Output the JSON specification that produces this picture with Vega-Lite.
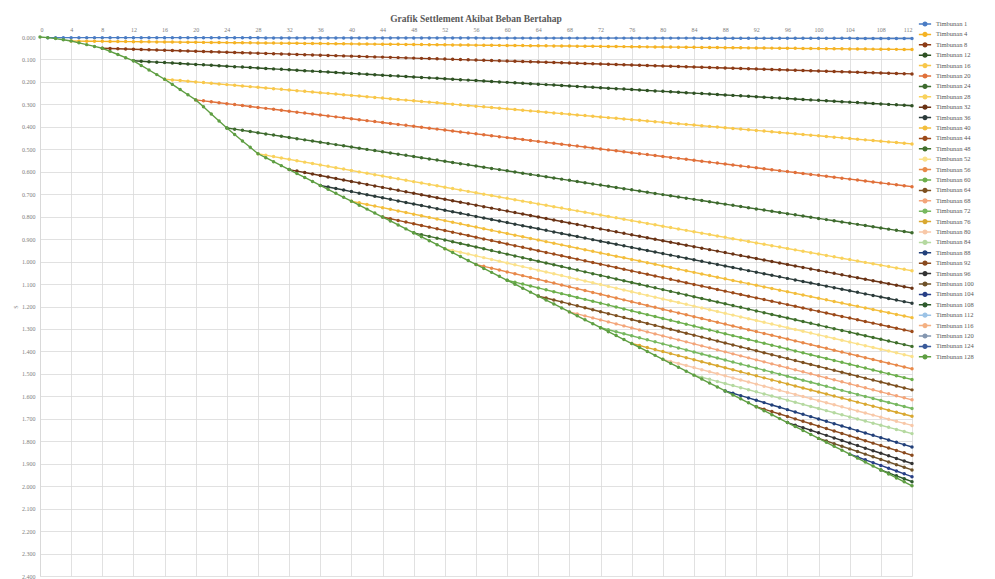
{
"$schema": "https://vega.github.io/schema/vega-lite/v6.json",
"width": 872, "height": 539,
"autosize": {"type": "none"},
"padding": {"left": 40, "top": 37, "right": 83, "bottom": 3},
"background": "white",
"config": {"font": "Liberation Serif", "view": {"stroke": null}},
"title": {"text": "Grafik Settlement Akibat Beban Bertahap", "fontSize": 9.5, "fontWeight": "bold", "color": "#595959", "anchor": "middle", "offset": -3},
"data": {"values": [
{"s":"Timbunan 1","x":[1,2,3,4,5,6,7,8,9,10,11,12,13,14,15,16,17,18,19,20,21,22,23,24,25,26,27,28,29,30,31,32,33,34,35,36,37,38,39,40,41,42,43,44,45,46,47,48,49,50,51,52,53,54,55,56,57,58,59,60,61,62,63,64,65,66,67,68,69,70,71,72,73,74,75,76,77,78,79,80,81,82,83,84,85,86,87,88,89,90,91,92,93,94,95,96,97,98,99,100,101,102,103,104,105,106,107,108,109,110,111,112],
"y":[0.003,0.003,0.003,0.003,0.003,0.003,0.003,0.003,0.003,0.003,0.003,0.003,0.003,0.003,0.003,0.003,0.003,0.003,0.003,0.003,0.003,0.003,0.003,0.003,0.003,0.003,0.003,0.003,0.004,0.004,0.004,0.004,0.004,0.004,0.004,0.004,0.004,0.004,0.004,0.004,0.004,0.004,0.004,0.004,0.004,0.004,0.004,0.004,0.004,0.004,0.004,0.004,0.004,0.004,0.004,0.004,0.005,0.005,0.005,0.005,0.005,0.005,0.005,0.005,0.005,0.005,0.005,0.005,0.005,0.005,0.005,0.005,0.005,0.005,0.005,0.005,0.005,0.005,0.005,0.005,0.005,0.005,0.005,0.005,0.006,0.006,0.006,0.006,0.006,0.006,0.006,0.006,0.006,0.006,0.006,0.006,0.006,0.006,0.006,0.006,0.006,0.006,0.006,0.006,0.007,0.007,0.007,0.007,0.007,0.007,0.007,0.007]},
{"s":"Timbunan 4","x":[4,5,6,7,8,9,10,11,12,13,14,15,16,17,18,19,20,21,22,23,24,25,26,27,28,29,30,31,32,33,34,35,36,37,38,39,40,41,42,43,44,45,46,47,48,49,50,51,52,53,54,55,56,57,58,59,60,61,62,63,64,65,66,67,68,69,70,71,72,73,74,75,76,77,78,79,80,81,82,83,84,85,86,87,88,89,90,91,92,93,94,95,96,97,98,99,100,101,102,103,104,105,106,107,108,109,110,111,112],
"y":[0.018,0.01835,0.0187,0.01905,0.0194,0.01975,0.0201,0.02045,0.0208,0.02115,0.0215,0.02185,0.0222,0.02255,0.0229,0.02325,0.0236,0.02395,0.0243,0.02465,0.025,0.02535,0.0257,0.02605,0.0264,0.02675,0.0271,0.02745,0.0278,0.02815,0.0285,0.02885,0.0292,0.02955,0.0299,0.03025,0.0306,0.03095,0.0313,0.03165,0.032,0.03235,0.0327,0.03305,0.0334,0.03375,0.0341,0.03445,0.0348,0.03515,0.0355,0.03585,0.0362,0.03655,0.0369,0.03725,0.0376,0.03795,0.0383,0.03865,0.039,0.03935,0.0397,0.04005,0.0404,0.04075,0.0411,0.04145,0.0418,0.04215,0.0425,0.04285,0.0432,0.04355,0.0439,0.04425,0.0446,0.04495,0.0453,0.04565,0.046,0.04635,0.0467,0.04705,0.0474,0.04775,0.0481,0.04845,0.0488,0.04915,0.0495,0.04985,0.0502,0.05055,0.0509,0.05125,0.0516,0.05195,0.0523,0.05265,0.053,0.05335,0.0537,0.05405,0.0544,0.05475,0.0551,0.05545,0.0558]},
{"s":"Timbunan 8","x":[8,9,10,11,12,13,14,15,16,17,18,19,20,21,22,23,24,25,26,27,28,29,30,31,32,33,34,35,36,37,38,39,40,41,42,43,44,45,46,47,48,49,50,51,52,53,54,55,56,57,58,59,60,61,62,63,64,65,66,67,68,69,70,71,72,73,74,75,76,77,78,79,80,81,82,83,84,85,86,87,88,89,90,91,92,93,94,95,96,97,98,99,100,101,102,103,104,105,106,107,108,109,110,111,112],
"y":[0.05,0.0511,0.0522,0.0533,0.0544,0.0555,0.0566,0.0577,0.0588,0.0599,0.061,0.0621,0.0632,0.0643,0.0654,0.0665,0.0676,0.0687,0.0698,0.0709,0.072,0.0731,0.0742,0.0753,0.0764,0.0775,0.0786,0.0797,0.0808,0.0819,0.083,0.0841,0.0852,0.0863,0.0874,0.0885,0.0896,0.0907,0.0918,0.0929,0.094,0.0951,0.0962,0.0973,0.0984,0.0995,0.1006,0.1017,0.1028,0.1039,0.105,0.1061,0.1072,0.1083,0.1094,0.1105,0.1116,0.1127,0.1138,0.1149,0.116,0.1171,0.1182,0.1193,0.1204,0.1215,0.1226,0.1237,0.1248,0.1259,0.127,0.1281,0.1292,0.1303,0.1314,0.1325,0.1336,0.1347,0.1358,0.1369,0.138,0.1391,0.1402,0.1413,0.1424,0.1435,0.1446,0.1457,0.1468,0.1479,0.149,0.1501,0.1512,0.1523,0.1534,0.1545,0.1556,0.1567,0.1578,0.1589,0.16,0.1611,0.1622,0.1633,0.1644]},
{"s":"Timbunan 12","x":[12,13,14,15,16,17,18,19,20,21,22,23,24,25,26,27,28,29,30,31,32,33,34,35,36,37,38,39,40,41,42,43,44,45,46,47,48,49,50,51,52,53,54,55,56,57,58,59,60,61,62,63,64,65,66,67,68,69,70,71,72,73,74,75,76,77,78,79,80,81,82,83,84,85,86,87,88,89,90,91,92,93,94,95,96,97,98,99,100,101,102,103,104,105,106,107,108,109,110,111,112],
"y":[0.106,0.108,0.11,0.112,0.114,0.116,0.118,0.12,0.122,0.124,0.126,0.128,0.13,0.132,0.134,0.136,0.138,0.14,0.142,0.144,0.146,0.148,0.15,0.152,0.154,0.156,0.158,0.16,0.162,0.164,0.166,0.168,0.17,0.172,0.174,0.176,0.178,0.18,0.182,0.184,0.186,0.188,0.19,0.192,0.194,0.196,0.198,0.2,0.202,0.204,0.206,0.208,0.21,0.212,0.214,0.216,0.218,0.22,0.222,0.224,0.226,0.228,0.23,0.232,0.234,0.236,0.238,0.24,0.242,0.244,0.246,0.248,0.25,0.252,0.254,0.256,0.258,0.26,0.262,0.264,0.266,0.268,0.27,0.272,0.274,0.276,0.278,0.28,0.282,0.284,0.286,0.288,0.29,0.292,0.294,0.296,0.298,0.3,0.302,0.304,0.306]},
{"s":"Timbunan 16","x":[16,17,18,19,20,21,22,23,24,25,26,27,28,29,30,31,32,33,34,35,36,37,38,39,40,41,42,43,44,45,46,47,48,49,50,51,52,53,54,55,56,57,58,59,60,61,62,63,64,65,66,67,68,69,70,71,72,73,74,75,76,77,78,79,80,81,82,83,84,85,86,87,88,89,90,91,92,93,94,95,96,97,98,99,100,101,102,103,104,105,106,107,108,109,110,111,112],
"y":[0.188,0.191,0.194,0.197,0.2,0.203,0.206,0.209,0.212,0.215,0.218,0.221,0.224,0.227,0.23,0.233,0.236,0.239,0.242,0.245,0.248,0.251,0.254,0.257,0.26,0.263,0.266,0.269,0.272,0.275,0.278,0.281,0.284,0.287,0.29,0.293,0.296,0.299,0.302,0.305,0.308,0.311,0.314,0.317,0.32,0.323,0.326,0.329,0.332,0.335,0.338,0.341,0.344,0.347,0.35,0.353,0.356,0.359,0.362,0.365,0.368,0.371,0.374,0.377,0.38,0.383,0.386,0.389,0.392,0.395,0.398,0.401,0.404,0.407,0.41,0.413,0.416,0.419,0.422,0.425,0.428,0.431,0.434,0.437,0.44,0.443,0.446,0.449,0.452,0.455,0.458,0.461,0.464,0.467,0.47,0.473,0.476]},
{"s":"Timbunan 20","x":[20,21,22,23,24,25,26,27,28,29,30,31,32,33,34,35,36,37,38,39,40,41,42,43,44,45,46,47,48,49,50,51,52,53,54,55,56,57,58,59,60,61,62,63,64,65,66,67,68,69,70,71,72,73,74,75,76,77,78,79,80,81,82,83,84,85,86,87,88,89,90,91,92,93,94,95,96,97,98,99,100,101,102,103,104,105,106,107,108,109,110,111,112],
"y":[0.28,0.2842,0.2884,0.2926,0.2968,0.301,0.3052,0.3094,0.3136,0.3178,0.322,0.3262,0.3304,0.3346,0.3388,0.343,0.3472,0.3514,0.3556,0.3598,0.364,0.3682,0.3724,0.3766,0.3808,0.385,0.3892,0.3934,0.3976,0.4018,0.406,0.4102,0.4144,0.4186,0.4228,0.427,0.4312,0.4354,0.4396,0.4438,0.448,0.4522,0.4564,0.4606,0.4648,0.469,0.4732,0.4774,0.4816,0.4858,0.49,0.4942,0.4984,0.5026,0.5068,0.511,0.5152,0.5194,0.5236,0.5278,0.532,0.5362,0.5404,0.5446,0.5488,0.553,0.5572,0.5614,0.5656,0.5698,0.574,0.5782,0.5824,0.5866,0.5908,0.595,0.5992,0.6034,0.6076,0.6118,0.616,0.6202,0.6244,0.6286,0.6328,0.637,0.6412,0.6454,0.6496,0.6538,0.658,0.6622,0.6664]},
{"s":"Timbunan 24","x":[24,25,26,27,28,29,30,31,32,33,34,35,36,37,38,39,40,41,42,43,44,45,46,47,48,49,50,51,52,53,54,55,56,57,58,59,60,61,62,63,64,65,66,67,68,69,70,71,72,73,74,75,76,77,78,79,80,81,82,83,84,85,86,87,88,89,90,91,92,93,94,95,96,97,98,99,100,101,102,103,104,105,106,107,108,109,110,111,112],
"y":[0.405,0.4103,0.4156,0.4209,0.4262,0.4315,0.4368,0.4421,0.4474,0.4527,0.458,0.4633,0.4686,0.4739,0.4792,0.4845,0.4898,0.4951,0.5004,0.5057,0.511,0.5163,0.5216,0.5269,0.5322,0.5375,0.5428,0.5481,0.5534,0.5587,0.564,0.5693,0.5746,0.5799,0.5852,0.5905,0.5958,0.6011,0.6064,0.6117,0.617,0.6223,0.6276,0.6329,0.6382,0.6435,0.6488,0.6541,0.6594,0.6647,0.67,0.6753,0.6806,0.6859,0.6912,0.6965,0.7018,0.7071,0.7124,0.7177,0.723,0.7283,0.7336,0.7389,0.7442,0.7495,0.7548,0.7601,0.7654,0.7707,0.776,0.7813,0.7866,0.7919,0.7972,0.8025,0.8078,0.8131,0.8184,0.8237,0.829,0.8343,0.8396,0.8449,0.8502,0.8555,0.8608,0.8661,0.8714]},
{"s":"Timbunan 28","x":[28,29,30,31,32,33,34,35,36,37,38,39,40,41,42,43,44,45,46,47,48,49,50,51,52,53,54,55,56,57,58,59,60,61,62,63,64,65,66,67,68,69,70,71,72,73,74,75,76,77,78,79,80,81,82,83,84,85,86,87,88,89,90,91,92,93,94,95,96,97,98,99,100,101,102,103,104,105,106,107,108,109,110,111,112],
"y":[0.52,0.5262,0.5324,0.5386,0.5448,0.551,0.5572,0.5634,0.5696,0.5758,0.582,0.5882,0.5944,0.6006,0.6068,0.613,0.6192,0.6254,0.6316,0.6378,0.644,0.6502,0.6564,0.6626,0.6688,0.675,0.6812,0.6874,0.6936,0.6998,0.706,0.7122,0.7184,0.7246,0.7308,0.737,0.7432,0.7494,0.7556,0.7618,0.768,0.7742,0.7804,0.7866,0.7928,0.799,0.8052,0.8114,0.8176,0.8238,0.83,0.8362,0.8424,0.8486,0.8548,0.861,0.8672,0.8734,0.8796,0.8858,0.892,0.8982,0.9044,0.9106,0.9168,0.923,0.9292,0.9354,0.9416,0.9478,0.954,0.9602,0.9664,0.9726,0.9788,0.985,0.9912,0.9974,1.0036,1.0098,1.016,1.0222,1.0284,1.0346,1.0408]},
{"s":"Timbunan 32","x":[32,33,34,35,36,37,38,39,40,41,42,43,44,45,46,47,48,49,50,51,52,53,54,55,56,57,58,59,60,61,62,63,64,65,66,67,68,69,70,71,72,73,74,75,76,77,78,79,80,81,82,83,84,85,86,87,88,89,90,91,92,93,94,95,96,97,98,99,100,101,102,103,104,105,106,107,108,109,110,111,112],
"y":[0.5904,0.597,0.6036,0.6102,0.6168,0.6234,0.63,0.6366,0.6432,0.6498,0.6564,0.663,0.6696,0.6762,0.6828,0.6894,0.696,0.7026,0.7092,0.7158,0.7224,0.729,0.7356,0.7422,0.7488,0.7554,0.762,0.7686,0.7752,0.7818,0.7884,0.795,0.8016,0.8082,0.8148,0.8214,0.828,0.8346,0.8412,0.8478,0.8544,0.861,0.8676,0.8742,0.8808,0.8874,0.894,0.9006,0.9072,0.9138,0.9204,0.927,0.9336,0.9402,0.9468,0.9534,0.96,0.9666,0.9732,0.9798,0.9864,0.993,0.9996,1.0062,1.0128,1.0194,1.026,1.0326,1.0392,1.0458,1.0524,1.059,1.0656,1.0722,1.0788,1.0854,1.092,1.0986,1.1052,1.1118,1.1184]},
{"s":"Timbunan 36","x":[36,37,38,39,40,41,42,43,44,45,46,47,48,49,50,51,52,53,54,55,56,57,58,59,60,61,62,63,64,65,66,67,68,69,70,71,72,73,74,75,76,77,78,79,80,81,82,83,84,85,86,87,88,89,90,91,92,93,94,95,96,97,98,99,100,101,102,103,104,105,106,107,108,109,110,111,112],
"y":[0.6608,0.6677,0.6746,0.6815,0.6884,0.6953,0.7022,0.7091,0.716,0.7229,0.7298,0.7367,0.7436,0.7505,0.7574,0.7643,0.7712,0.7781,0.785,0.7919,0.7988,0.8057,0.8126,0.8195,0.8264,0.8333,0.8402,0.8471,0.854,0.8609,0.8678,0.8747,0.8816,0.8885,0.8954,0.9023,0.9092,0.9161,0.923,0.9299,0.9368,0.9437,0.9506,0.9575,0.9644,0.9713,0.9782,0.9851,0.992,0.9989,1.0058,1.0127,1.0196,1.0265,1.0334,1.0403,1.0472,1.0541,1.061,1.0679,1.0748,1.0817,1.0886,1.0955,1.1024,1.1093,1.1162,1.1231,1.13,1.1369,1.1438,1.1507,1.1576,1.1645,1.1714,1.1783,1.1852]},
{"s":"Timbunan 40","x":[40,41,42,43,44,45,46,47,48,49,50,51,52,53,54,55,56,57,58,59,60,61,62,63,64,65,66,67,68,69,70,71,72,73,74,75,76,77,78,79,80,81,82,83,84,85,86,87,88,89,90,91,92,93,94,95,96,97,98,99,100,101,102,103,104,105,106,107,108,109,110,111,112],
"y":[0.7312,0.7384,0.7456,0.7528,0.76,0.7672,0.7744,0.7816,0.7888,0.796,0.8032,0.8104,0.8176,0.8248,0.832,0.8392,0.8464,0.8536,0.8608,0.868,0.8752,0.8824,0.8896,0.8968,0.904,0.9112,0.9184,0.9256,0.9328,0.94,0.9472,0.9544,0.9616,0.9688,0.976,0.9832,0.9904,0.9976,1.0048,1.012,1.0192,1.0264,1.0336,1.0408,1.048,1.0552,1.0624,1.0696,1.0768,1.084,1.0912,1.0984,1.1056,1.1128,1.12,1.1272,1.1344,1.1416,1.1488,1.156,1.1632,1.1704,1.1776,1.1848,1.192,1.1992,1.2064,1.2136,1.2208,1.228,1.2352,1.2424,1.2496]},
{"s":"Timbunan 44","x":[44,45,46,47,48,49,50,51,52,53,54,55,56,57,58,59,60,61,62,63,64,65,66,67,68,69,70,71,72,73,74,75,76,77,78,79,80,81,82,83,84,85,86,87,88,89,90,91,92,93,94,95,96,97,98,99,100,101,102,103,104,105,106,107,108,109,110,111,112],
"y":[0.8016,0.8091,0.8166,0.8241,0.8316,0.8391,0.8466,0.8541,0.8616,0.8691,0.8766,0.8841,0.8916,0.8991,0.9066,0.9141,0.9216,0.9291,0.9366,0.9441,0.9516,0.9591,0.9666,0.9741,0.9816,0.9891,0.9966,1.0041,1.0116,1.0191,1.0266,1.0341,1.0416,1.0491,1.0566,1.0641,1.0716,1.0791,1.0866,1.0941,1.1016,1.1091,1.1166,1.1241,1.1316,1.1391,1.1466,1.1541,1.1616,1.1691,1.1766,1.1841,1.1916,1.1991,1.2066,1.2141,1.2216,1.2291,1.2366,1.2441,1.2516,1.2591,1.2666,1.2741,1.2816,1.2891,1.2966,1.3041,1.3116]},
{"s":"Timbunan 48","x":[48,49,50,51,52,53,54,55,56,57,58,59,60,61,62,63,64,65,66,67,68,69,70,71,72,73,74,75,76,77,78,79,80,81,82,83,84,85,86,87,88,89,90,91,92,93,94,95,96,97,98,99,100,101,102,103,104,105,106,107,108,109,110,111,112],
"y":[0.872,0.8799,0.8878,0.8957,0.9036,0.9115,0.9194,0.9273,0.9352,0.9431,0.951,0.9589,0.9668,0.9747,0.9826,0.9905,0.9984,1.0063,1.0142,1.0221,1.03,1.0379,1.0458,1.0537,1.0616,1.0695,1.0774,1.0853,1.0932,1.1011,1.109,1.1169,1.1248,1.1327,1.1406,1.1485,1.1564,1.1643,1.1722,1.1801,1.188,1.1959,1.2038,1.2117,1.2196,1.2275,1.2354,1.2433,1.2512,1.2591,1.267,1.2749,1.2828,1.2907,1.2986,1.3065,1.3144,1.3223,1.3302,1.3381,1.346,1.3539,1.3618,1.3697,1.3776]},
{"s":"Timbunan 52","x":[52,53,54,55,56,57,58,59,60,61,62,63,64,65,66,67,68,69,70,71,72,73,74,75,76,77,78,79,80,81,82,83,84,85,86,87,88,89,90,91,92,93,94,95,96,97,98,99,100,101,102,103,104,105,106,107,108,109,110,111,112],
"y":[0.9424,0.9504,0.9584,0.9664,0.9744,0.9824,0.9904,0.9984,1.0064,1.0144,1.0224,1.0304,1.0384,1.0464,1.0544,1.0624,1.0704,1.0784,1.0864,1.0944,1.1024,1.1104,1.1184,1.1264,1.1344,1.1424,1.1504,1.1584,1.1664,1.1744,1.1824,1.1904,1.1984,1.2064,1.2144,1.2224,1.2304,1.2384,1.2464,1.2544,1.2624,1.2704,1.2784,1.2864,1.2944,1.3024,1.3104,1.3184,1.3264,1.3344,1.3424,1.3504,1.3584,1.3664,1.3744,1.3824,1.3904,1.3984,1.4064,1.4144,1.4224]},
{"s":"Timbunan 56","x":[56,57,58,59,60,61,62,63,64,65,66,67,68,69,70,71,72,73,74,75,76,77,78,79,80,81,82,83,84,85,86,87,88,89,90,91,92,93,94,95,96,97,98,99,100,101,102,103,104,105,106,107,108,109,110,111,112],
"y":[1.0128,1.0211,1.0294,1.0377,1.046,1.0543,1.0626,1.0709,1.0792,1.0875,1.0958,1.1041,1.1124,1.1207,1.129,1.1373,1.1456,1.1539,1.1622,1.1705,1.1788,1.1871,1.1954,1.2037,1.212,1.2203,1.2286,1.2369,1.2452,1.2535,1.2618,1.2701,1.2784,1.2867,1.295,1.3033,1.3116,1.3199,1.3282,1.3365,1.3448,1.3531,1.3614,1.3697,1.378,1.3863,1.3946,1.4029,1.4112,1.4195,1.4278,1.4361,1.4444,1.4527,1.461,1.4693,1.4776]},
{"s":"Timbunan 60","x":[60,61,62,63,64,65,66,67,68,69,70,71,72,73,74,75,76,77,78,79,80,81,82,83,84,85,86,87,88,89,90,91,92,93,94,95,96,97,98,99,100,101,102,103,104,105,106,107,108,109,110,111,112],
"y":[1.0832,1.0917,1.1002,1.1087,1.1172,1.1257,1.1342,1.1427,1.1512,1.1597,1.1682,1.1767,1.1852,1.1937,1.2022,1.2107,1.2192,1.2277,1.2362,1.2447,1.2532,1.2617,1.2702,1.2787,1.2872,1.2957,1.3042,1.3127,1.3212,1.3297,1.3382,1.3467,1.3552,1.3637,1.3722,1.3807,1.3892,1.3977,1.4062,1.4147,1.4232,1.4317,1.4402,1.4487,1.4572,1.4657,1.4742,1.4827,1.4912,1.4997,1.5082,1.5167,1.5252]},
{"s":"Timbunan 64","x":[64,65,66,67,68,69,70,71,72,73,74,75,76,77,78,79,80,81,82,83,84,85,86,87,88,89,90,91,92,93,94,95,96,97,98,99,100,101,102,103,104,105,106,107,108,109,110,111,112],
"y":[1.1536,1.1623,1.171,1.1797,1.1884,1.1971,1.2058,1.2145,1.2232,1.2319,1.2406,1.2493,1.258,1.2667,1.2754,1.2841,1.2928,1.3015,1.3102,1.3189,1.3276,1.3363,1.345,1.3537,1.3624,1.3711,1.3798,1.3885,1.3972,1.4059,1.4146,1.4233,1.432,1.4407,1.4494,1.4581,1.4668,1.4755,1.4842,1.4929,1.5016,1.5103,1.519,1.5277,1.5364,1.5451,1.5538,1.5625,1.5712]},
{"s":"Timbunan 68","x":[68,69,70,71,72,73,74,75,76,77,78,79,80,81,82,83,84,85,86,87,88,89,90,91,92,93,94,95,96,97,98,99,100,101,102,103,104,105,106,107,108,109,110,111,112],
"y":[1.224,1.2329,1.2418,1.2507,1.2596,1.2685,1.2774,1.2863,1.2952,1.3041,1.313,1.3219,1.3308,1.3397,1.3486,1.3575,1.3664,1.3753,1.3842,1.3931,1.402,1.4109,1.4198,1.4287,1.4376,1.4465,1.4554,1.4643,1.4732,1.4821,1.491,1.4999,1.5088,1.5177,1.5266,1.5355,1.5444,1.5533,1.5622,1.5711,1.58,1.5889,1.5978,1.6067,1.6156]},
{"s":"Timbunan 72","x":[72,73,74,75,76,77,78,79,80,81,82,83,84,85,86,87,88,89,90,91,92,93,94,95,96,97,98,99,100,101,102,103,104,105,106,107,108,109,110,111,112],
"y":[1.2944,1.3034,1.3124,1.3214,1.3304,1.3394,1.3484,1.3574,1.3664,1.3754,1.3844,1.3934,1.4024,1.4114,1.4204,1.4294,1.4384,1.4474,1.4564,1.4654,1.4744,1.4834,1.4924,1.5014,1.5104,1.5194,1.5284,1.5374,1.5464,1.5554,1.5644,1.5734,1.5824,1.5914,1.6004,1.6094,1.6184,1.6274,1.6364,1.6454,1.6544]},
{"s":"Timbunan 76","x":[76,77,78,79,80,81,82,83,84,85,86,87,88,89,90,91,92,93,94,95,96,97,98,99,100,101,102,103,104,105,106,107,108,109,110,111,112],
"y":[1.3648,1.3738,1.3828,1.3918,1.4008,1.4098,1.4188,1.4278,1.4368,1.4458,1.4548,1.4638,1.4728,1.4818,1.4908,1.4998,1.5088,1.5178,1.5268,1.5358,1.5448,1.5538,1.5628,1.5718,1.5808,1.5898,1.5988,1.6078,1.6168,1.6258,1.6348,1.6438,1.6528,1.6618,1.6708,1.6798,1.6888]},
{"s":"Timbunan 80","x":[80,81,82,83,84,85,86,87,88,89,90,91,92,93,94,95,96,97,98,99,100,101,102,103,104,105,106,107,108,109,110,111,112],
"y":[1.4352,1.4444,1.4536,1.4628,1.472,1.4812,1.4904,1.4996,1.5088,1.518,1.5272,1.5364,1.5456,1.5548,1.564,1.5732,1.5824,1.5916,1.6008,1.61,1.6192,1.6284,1.6376,1.6468,1.656,1.6652,1.6744,1.6836,1.6928,1.702,1.7112,1.7204,1.7296]},
{"s":"Timbunan 84","x":[84,85,86,87,88,89,90,91,92,93,94,95,96,97,98,99,100,101,102,103,104,105,106,107,108,109,110,111,112],
"y":[1.5056,1.5149,1.5242,1.5335,1.5428,1.5521,1.5614,1.5707,1.58,1.5893,1.5986,1.6079,1.6172,1.6265,1.6358,1.6451,1.6544,1.6637,1.673,1.6823,1.6916,1.7009,1.7102,1.7195,1.7288,1.7381,1.7474,1.7567,1.766]},
{"s":"Timbunan 88","x":[88,89,90,91,92,93,94,95,96,97,98,99,100,101,102,103,104,105,106,107,108,109,110,111,112],
"y":[1.576,1.5864,1.5968,1.6072,1.6176,1.628,1.6384,1.6488,1.6592,1.6696,1.68,1.6904,1.7008,1.7112,1.7216,1.732,1.7424,1.7528,1.7632,1.7736,1.784,1.7944,1.8048,1.8152,1.8256]},
{"s":"Timbunan 92","x":[92,93,94,95,96,97,98,99,100,101,102,103,104,105,106,107,108,109,110,111,112],
"y":[1.6464,1.6572,1.668,1.6788,1.6896,1.7004,1.7112,1.722,1.7328,1.7436,1.7544,1.7652,1.776,1.7868,1.7976,1.8084,1.8192,1.83,1.8408,1.8516,1.8624]},
{"s":"Timbunan 96","x":[96,97,98,99,100,101,102,103,104,105,106,107,108,109,110,111,112],
"y":[1.7168,1.7282,1.7396,1.751,1.7624,1.7738,1.7852,1.7966,1.808,1.8194,1.8308,1.8422,1.8536,1.865,1.8764,1.8878,1.8992]},
{"s":"Timbunan 100","x":[100,101,102,103,104,105,106,107,108,109,110,111,112],
"y":[1.7872,1.7989,1.8106,1.8223,1.834,1.8457,1.8574,1.8691,1.8808,1.8925,1.9042,1.9159,1.9276]},
{"s":"Timbunan 104","x":[104,105,106,107,108,109,110,111,112],
"y":[1.8576,1.8701,1.8826,1.8951,1.9076,1.9201,1.9326,1.9451,1.9576]},
{"s":"Timbunan 108","x":[108,109,110,111,112],
"y":[1.928,1.941,1.954,1.967,1.98]},
{"s":"Timbunan 128","x":[0,1,2,3,4,5,6,7,8,9,10,11,12,13,14,15,16,17,18,19,20,21,22,23,24,25,26,27,28,29,30,31,32,33,34,35,36,37,38,39,40,41,42,43,44,45,46,47,48,49,50,51,52,53,54,55,56,57,58,59,60,61,62,63,64,65,66,67,68,69,70,71,72,73,74,75,76,77,78,79,80,81,82,83,84,85,86,87,88,89,90,91,92,93,94,95,96,97,98,99,100,101,102,103,104,105,106,107,108,109,110,111,112],
"y":[0,0.003,0.007,0.012,0.018,0.026,0.034,0.042,0.05,0.064,0.078,0.092,0.106,0.1265,0.147,0.1675,0.188,0.211,0.234,0.257,0.28,0.311,0.343,0.374,0.405,0.434,0.463,0.491,0.52,0.5376,0.5552,0.5728,0.5904,0.608,0.6256,0.6432,0.6608,0.6784,0.696,0.7136,0.7312,0.7488,0.7664,0.784,0.8016,0.8192,0.8368,0.8544,0.872,0.8896,0.9072,0.9248,0.9424,0.96,0.9776,0.9952,1.0128,1.0304,1.048,1.0656,1.0832,1.1008,1.1184,1.136,1.1536,1.1712,1.1888,1.2064,1.224,1.2416,1.2592,1.2768,1.2944,1.312,1.3296,1.3472,1.3648,1.3824,1.4,1.4176,1.4352,1.4528,1.4704,1.488,1.5056,1.5232,1.5408,1.5584,1.576,1.5936,1.6112,1.6288,1.6464,1.664,1.6816,1.6992,1.7168,1.7344,1.752,1.7696,1.7872,1.8048,1.8224,1.84,1.8576,1.8752,1.8928,1.9104,1.928,1.9456,1.9632,1.9808,1.9984]}
]},
"transform": [{"flatten": ["x", "y"]}, {"filter": "datum.y != null"}],
"encoding": {
  "x": {"field": "x", "type": "quantitative",
    "scale": {"domain": [0, 112], "nice": false, "zero": false},
    "axis": {"orient": "top", "title": null, "values": [0,4,8,12,16,20,24,28,32,36,40,44,48,52,56,60,64,68,72,76,80,84,88,92,96,100,104,108,112],
      "labelFontSize": 6, "labelColor": "#808080", "tickSize": 0, "labelPadding": 5, "domainColor": "#d9d9d9", "gridColor": "#d9d9d9", "gridWidth": 0.8}},
  "y": {"field": "y", "type": "quantitative",
    "scale": {"domain": [0, 2.4], "reverse": true, "nice": false, "zero": false},
    "axis": {"title": "S", "titleFontSize": 6, "titleFontWeight": "normal", "titleColor": "#808080", "titlePadding": 3,
      "values": [0,0.1,0.2,0.3,0.4,0.5,0.6,0.7,0.8,0.9,1,1.1,1.2,1.3,1.4,1.5,1.6,1.7,1.8,1.9,2,2.1,2.2,2.3,2.4],
      "format": ".3f", "labelFontSize": 6, "labelColor": "#808080", "tickSize": 0, "labelPadding": 5, "domainColor": "#d9d9d9", "gridColor": "#d9d9d9", "gridWidth": 0.8}},
  "color": {"field": "s", "type": "nominal",
    "scale": {"domain": ["Timbunan 1","Timbunan 4","Timbunan 8","Timbunan 12","Timbunan 16","Timbunan 20","Timbunan 24","Timbunan 28","Timbunan 32","Timbunan 36","Timbunan 40","Timbunan 44","Timbunan 48","Timbunan 52","Timbunan 56","Timbunan 60","Timbunan 64","Timbunan 68","Timbunan 72","Timbunan 76","Timbunan 80","Timbunan 84","Timbunan 88","Timbunan 92","Timbunan 96","Timbunan 100","Timbunan 104","Timbunan 108","Timbunan 112","Timbunan 116","Timbunan 120","Timbunan 124","Timbunan 128"],
      "range": ["#4a7cc4","#f5b324","#8c3b16","#2f5224","#f8c74a","#e0703a","#3e6b2e","#f9d25c","#6a3315","#2b3b3a","#f3be3c","#9c4a1a","#3f6f2c","#fbe18a","#e8894a","#6caf4c","#7d5020","#f3a57a","#77b860","#d9a830","#f8c8a8","#b5d9a0","#22407a","#8a4a1e","#333333","#6e5128","#273f86","#2e5a2c","#9cc3e6","#f4b183","#8497b0","#3a5a9a","#5e9e42"]},
    "legend": {"title": null, "orient": "none", "legendX": 878, "legendY": -17, "labelFontSize": 6.5, "labelColor": "#595959", "symbolLimit": 0,
      "symbolType": "M-1,0H-0.3M0.3,0H1M-0.3,0A0.3,0.3 0 1,0 0.3,0A0.3,0.3 0 1,0 -0.3,0", "symbolSize": 150, "symbolStrokeWidth": 1.5, "clipHeight": 8, "rowPadding": 2.4, "labelOffset": 4}}
},
"layer": [
  {"transform": [{"filter": "datum.s != 'Timbunan 128'"}],
   "mark": {"type": "line", "strokeWidth": 1.4, "point": {"filled": true, "size": 12}}},
  {"transform": [{"filter": "datum.s == 'Timbunan 128'"}],
   "mark": {"type": "line", "strokeWidth": 1.4, "point": {"filled": true, "size": 12}}}
]
}
